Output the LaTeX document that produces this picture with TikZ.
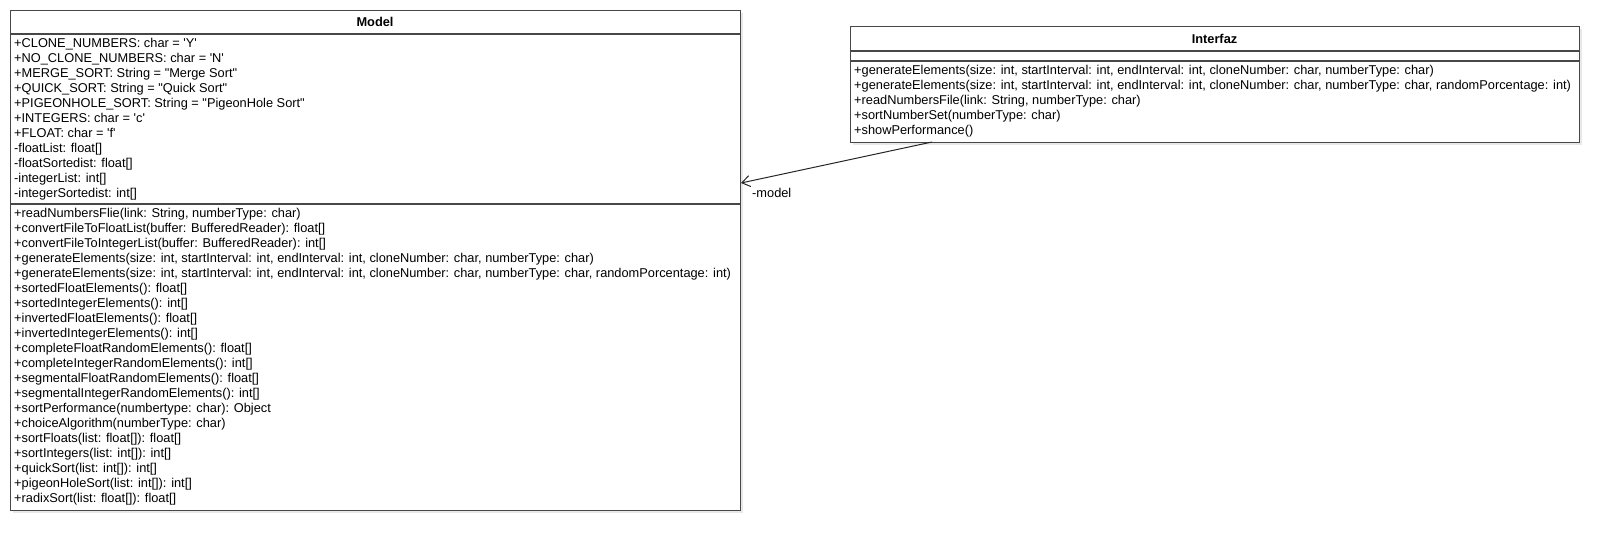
\documentclass[tikz,border=0pt]{standalone}
\usepackage{fontspec}
\setmainfont{Liberation Sans}[Ligatures=TeXOff]
\usetikzlibrary{arrows.meta}
\begin{document}
\begin{tikzpicture}[x=1pt,y=-1pt,
  box/.style={draw=black!72, line width=1.1pt, fill=white, rectangle, inner sep=0pt, anchor=north west},
  shadowbox/.style={fill=black!9, draw=none, rectangle, inner sep=0pt, anchor=north west},
  sep/.style={draw=black!72, line width=1.1pt},
  txt/.style={anchor=west, inner sep=0pt, font=\fontsize{12.8}{15}\selectfont, text height=9.5pt, text depth=2.5pt},
  ttl/.style={inner sep=0pt, font=\fontsize{12.8}{15}\selectfont\bfseries},
  assoc/.style={draw=black!85, line width=1pt, -{Straight Barb[length=8pt,width=11pt]}},
  lbl/.style={anchor=west, inner sep=0pt, font=\fontsize{12.8}{15}\selectfont}
]
\useasboundingbox (0,0) rectangle (1619,555);
% Model class
\node[shadowbox, minimum width=730pt, minimum height=500pt] (modelsh) at (13,13) {};
\node[box, minimum width=730pt, minimum height=500pt] (model) at (10,10) {};
\draw[sep] (10,34) -- (740,34);
\draw[sep] (10,204) -- (740,204);
\node[ttl] (modelttl) at (375,22) {Model};
\node[txt] (ma1) at (14,44) {+CLONE\_NUMBERS: char = 'Y'};
\node[txt] (ma2) at (14,59) {+NO\_CLONE\_NUMBERS: char = 'N'};
\node[txt] (ma3) at (14,74) {+MERGE\_SORT: String = "Merge Sort"};
\node[txt] (ma4) at (14,89) {+QUICK\_SORT: String = "Quick Sort"};
\node[txt] (ma5) at (14,104) {+PIGEONHOLE\_SORT: String = "PigeonHole Sort"};
\node[txt] (ma6) at (14,119) {+INTEGERS: char = 'c'};
\node[txt] (ma7) at (14,134) {+FLOAT: char = 'f'};
\node[txt] (ma8) at (14,149) {-floatList: float[]};
\node[txt] (ma9) at (14,164) {-floatSortedist: float[]};
\node[txt] (ma10) at (14,179) {-integerList: int[]};
\node[txt] (ma11) at (14,194) {-integerSortedist: int[]};
\node[txt] (mm1) at (14,214) {+readNumbersFlie(link: String, numberType: char)};
\node[txt] (mm2) at (14,229) {+convertFileToFloatList(buffer: BufferedReader): float[]};
\node[txt] (mm3) at (14,244) {+convertFileToIntegerList(buffer: BufferedReader): int[]};
\node[txt] (mm4) at (14,259) {+generateElements(size: int, startInterval: int, endInterval: int, cloneNumber: char, numberType: char)};
\node[txt] (mm5) at (14,274) {+generateElements(size: int, startInterval: int, endInterval: int, cloneNumber: char, numberType: char, randomPorcentage: int)};
\node[txt] (mm6) at (14,289) {+sortedFloatElements(): float[]};
\node[txt] (mm7) at (14,304) {+sortedIntegerElements(): int[]};
\node[txt] (mm8) at (14,319) {+invertedFloatElements(): float[]};
\node[txt] (mm9) at (14,334) {+invertedIntegerElements(): int[]};
\node[txt] (mm10) at (14,349) {+completeFloatRandomElements(): float[]};
\node[txt] (mm11) at (14,364) {+completeIntegerRandomElements(): int[]};
\node[txt] (mm12) at (14,379) {+segmentalFloatRandomElements(): float[]};
\node[txt] (mm13) at (14,394) {+segmentalIntegerRandomElements(): int[]};
\node[txt] (mm14) at (14,409) {+sortPerformance(numbertype: char): Object};
\node[txt] (mm15) at (14,424) {+choiceAlgorithm(numberType: char)};
\node[txt] (mm16) at (14,439) {+sortFloats(list: float[]): float[]};
\node[txt] (mm17) at (14,454) {+sortIntegers(list: int[]): int[]};
\node[txt] (mm18) at (14,469) {+quickSort(list: int[]): int[]};
\node[txt] (mm19) at (14,484) {+pigeonHoleSort(list: int[]): int[]};
\node[txt] (mm20) at (14,499) {+radixSort(list: float[]): float[]};
% Interfaz class
\node[shadowbox, minimum width=729pt, minimum height=116pt] (ifacesh) at (853,29) {};
\node[box, minimum width=729pt, minimum height=116pt] (iface) at (850,26) {};
\draw[sep] (850,51) -- (1579,51);
\draw[sep] (850,61) -- (1579,61);
\node[ttl] (ifacettl) at (1214.5,38.5) {Interfaz};
\node[txt] (im1) at (854,71) {+generateElements(size: int, startInterval: int, endInterval: int, cloneNumber: char, numberType: char)};
\node[txt] (im2) at (854,86) {+generateElements(size: int, startInterval: int, endInterval: int, cloneNumber: char, numberType: char, randomPorcentage: int)};
\node[txt] (im3) at (854,101) {+readNumbersFile(link: String, numberType: char)};
\node[txt] (im4) at (854,116) {+sortNumberSet(numberType: char)};
\node[txt] (im5) at (854,131) {+showPerformance()};
% association
\coordinate (assocstart) at (932,142);
\coordinate (assocend) at (741,183);
\draw[assoc] (assocstart) -- (assocend);
\node[lbl] (rolelbl) at (752,193) {-model};
\end{tikzpicture}
\end{document}
